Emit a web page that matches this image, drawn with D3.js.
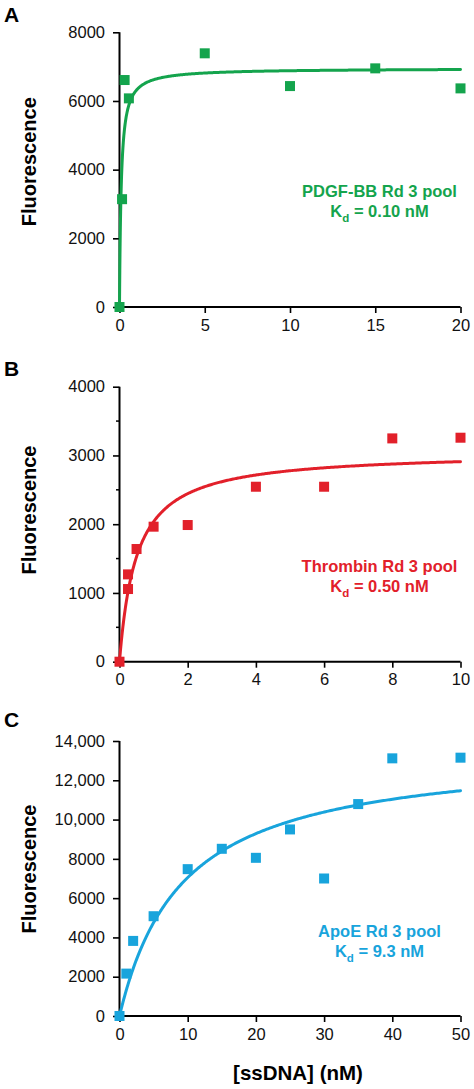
<!DOCTYPE html>
<html><head><meta charset="utf-8">
<script src="https://cdn.jsdelivr.net/npm/d3@7"></script>
<style>
body{margin:0;background:#fff}
text{font-family:"Liberation Sans",Arial,Helvetica,sans-serif}
</style>
</head><body>
<svg id="chart" width="474" height="1089"></svg>
<script>
// ---------- data ----------
const panelLetters = ["A", "B", "C"];
const targetNames = ["PDGF-BB Rd 3 pool", "Thrombin Rd 3 pool", "ApoE Rd 3 pool"];
const kdLabels = ["0.10", "0.50", "9.3"];
const kdValues = [0.10, 0.50, 9.3];          // fitted Kd (nM)
const bmaxValues = [6950, 3055, 13600];      // fitted Bmax (fluorescence)
const seriesColors = ["#14a44d", "#e2202a", "#18a4dc"];

const xTicksA = [0, 5, 10, 15, 20];
const xTicksB = [0, 2, 4, 6, 8, 10];
const xTicksC = [0, 10, 20, 30, 40, 50];
const yTicksA = [0, 2000, 4000, 6000, 8000];
const yTicksB = [0, 1000, 2000, 3000, 4000];
const yTicksC = [0, 2000, 4000, 6000, 8000, 10000, 12000, 14000];
const yMinorB = [500, 1500, 2500, 3500];

const concA = [0, 0.15, 0.3, 0.55, 5, 10, 15, 20];
const fluorA = [0, 3140, 6610, 6076, 7388, 6434, 6950, 6367];
const concB = [0, 0.25, 0.25, 0.5, 1, 2, 4, 6, 8, 10];
const fluorB = [0, 1057, 1270, 1639, 1964, 1988, 2545, 2545, 3248, 3258];
const concC = [0, 1, 2, 5, 10, 15, 20, 25, 30, 35, 40, 50];
const fluorC = [0, 2158, 3823, 5080, 7476, 8512, 8053, 9498, 7000, 10789, 13117, 13151];

const yTitle = "Fluorescence";
const xTitle = "[ssDNA] (nM)";

// ---------- layout ----------
const layout = [
  {top: 32.3, bottom: 307, letterY: 21.7, ann1: 197, ann2: 216.5, titleY: 161.7},
  {top: 386.7, bottom: 661.7, letterY: 376, ann1: 572.3, ann2: 591.7, titleY: 510},
  {top: 741, bottom: 1016, letterY: 726.7, ann1: 936.7, ann2: 956.5, titleY: 869}
];
const xLeft = 119.5, xRight = 460.5;

const panels = [
  {x: concA, y: fluorA, xt: xTicksA, yt: yTicksA, minor: []},
  {x: concB, y: fluorB, xt: xTicksB, yt: yTicksB, minor: yMinorB},
  {x: concC, y: fluorC, xt: xTicksC, yt: yTicksC, minor: []}
];

const svg = d3.select("#chart");
const fmtY = v => v >= 10000 ? d3.format(",")(v) : String(v);

panels.forEach((p, i) => {
  const L = layout[i];
  const color = seriesColors[i];
  const xs = d3.scaleLinear().domain([0, p.xt[p.xt.length - 1]]).range([xLeft, xRight]);
  const ys = d3.scaleLinear().domain([0, p.yt[p.yt.length - 1]]).range([L.bottom, L.top]);
  const g = svg.append("g");

  // panel letter
  g.append("text").attr("x", 4).attr("y", L.letterY)
    .attr("font-size", 21).attr("font-weight", "bold").text(panelLetters[i]);

  // y title
  g.append("text").attr("transform", `translate(36,${L.titleY}) rotate(-90)`)
    .attr("text-anchor", "middle").attr("font-size", 20).attr("font-weight", "bold")
    .text(yTitle);

  // minor y ticks
  g.selectAll(".minor").data(p.minor).enter().append("line")
    .attr("x1", xLeft - 3.5).attr("x2", xLeft).attr("y1", d => ys(d)).attr("y2", d => ys(d))
    .attr("stroke", "#000").attr("stroke-width", 1.5);

  // y axis
  const yAxis = d3.axisLeft(ys).tickValues(p.yt).tickSize(6.5).tickPadding(8).tickFormat(fmtY);
  const ya = g.append("g").attr("transform", `translate(${xLeft},0)`).call(yAxis);
  ya.select(".domain").attr("d", `M0,${L.top}V${L.bottom}`).attr("stroke-width", 2);
  ya.selectAll(".tick line").attr("stroke-width", 1.6);
  ya.selectAll(".tick text").attr("font-size", 16.5).attr("font-family", "Liberation Sans, Arial, sans-serif").attr("fill", "#111");

  // x axis
  const xAxis = d3.axisBottom(xs).tickValues(p.xt).tickSize(6).tickPadding(6);
  const xa = g.append("g").attr("transform", `translate(0,${L.bottom})`).call(xAxis);
  xa.select(".domain").attr("d", `M${xLeft},0H${xRight}`).attr("stroke-width", 2);
  xa.selectAll(".tick line").attr("stroke-width", 1.6);
  xa.selectAll(".tick text").attr("font-size", 16.5).attr("font-family", "Liberation Sans, Arial, sans-serif").attr("fill", "#111");

  // fitted binding curve (one-site saturation with fitted Kd, Bmax)
  const xmax = p.xt[p.xt.length - 1];
  const kd = kdValues[i], bmax = bmaxValues[i];
  const samples = d3.range(0, 401).map(k => xmax * Math.pow(k / 400, 2));
  const line = d3.line().x(d => xs(d)).y(d => ys(bmax * d / (kd + d)));
  g.append("path").datum(samples).attr("d", line)
    .attr("fill", "none").attr("stroke", color).attr("stroke-width", 3)
    .attr("stroke-linejoin", "round").attr("stroke-linecap", "round");

  // markers
  const sq = 10;
  g.selectAll(".pt").data(p.x.map((x, k) => [x, p.y[k]])).enter().append("rect")
    .attr("x", d => xs(d[0]) - sq / 2).attr("y", d => ys(d[1]) - sq / 2)
    .attr("width", sq).attr("height", sq).attr("fill", color);

  // annotation
  const ax = 379.5;
  g.append("text").attr("x", ax).attr("y", L.ann1).attr("text-anchor", "middle")
    .attr("font-size", 16.5).attr("font-weight", "bold").attr("fill", color)
    .text(targetNames[i]);
  const t2 = g.append("text").attr("x", ax).attr("y", L.ann2).attr("text-anchor", "middle")
    .attr("font-size", 16.5).attr("font-weight", "bold").attr("fill", color);
  t2.append("tspan").text("K");
  t2.append("tspan").attr("font-size", 11.5).attr("dy", 5).text("d");
  t2.append("tspan").attr("dy", -5).text(" = " + kdLabels[i] + " nM");
});

// x title (bottom)
svg.append("text").attr("x", 298).attr("y", 1080).attr("text-anchor", "middle")
  .attr("font-size", 20.5).attr("font-weight", "bold").text(xTitle);
</script>
</body></html>
